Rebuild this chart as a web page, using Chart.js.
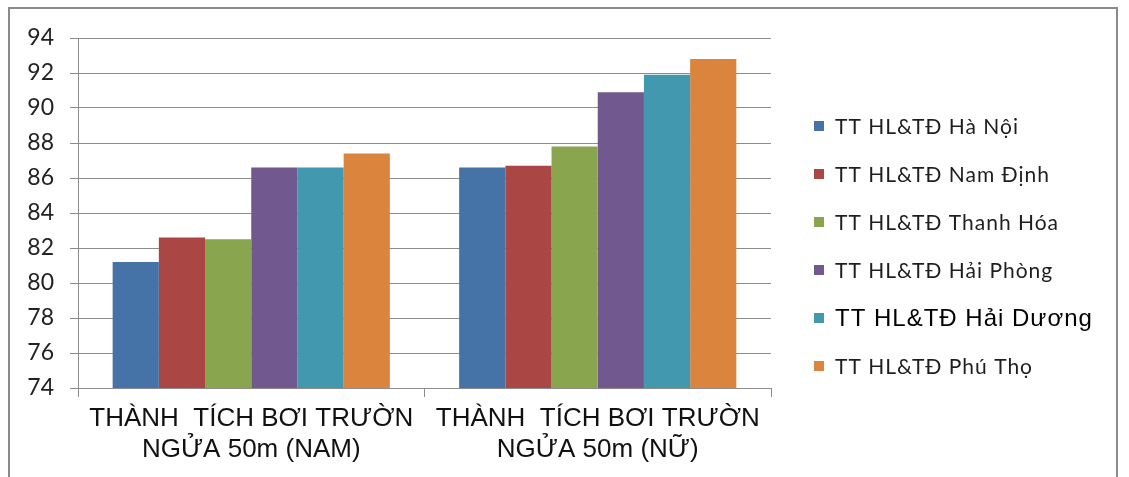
<!DOCTYPE html>
<html>
<head>
<meta charset="utf-8">
<script src="https://cdn.jsdelivr.net/npm/chart.js@4.4.1/dist/chart.umd.min.js"></script>
<style>
  html, body { margin: 0; padding: 0; background: #ffffff; }
  #wrap { width: 1129px; height: 477px; position: relative; }
</style>
</head>
<body>
<div id="wrap"><canvas id="c" width="1129" height="477"></canvas></div>
<script>
// Categories (two-line labels) and one series per training centre
const categories = [
  ['THÀNH  TÍCH BƠI TRƯỜN', 'NGỬA 50m (NAM)'],
  ['THÀNH  TÍCH BƠI TRƯỜN', 'NGỬA 50m (NỮ)']
];
const seriesNames = [
  'TT HL&TĐ Hà Nội',
  'TT HL&TĐ Nam Định',
  'TT HL&TĐ Thanh Hóa',
  'TT HL&TĐ Hải Phòng',
  'TT HL&TĐ Hải Dương',
  'TT HL&TĐ Phú Thọ'
];
const haNoi    = [81.2, 86.6];
const namDinh  = [82.6, 86.7];
const thanhHoa = [82.5, 87.8];
const haiPhong = [86.6, 90.9];
const haiDuong = [86.6, 91.9];
const phuTho   = [87.4, 92.8];
const yTicks = [74, 76, 78, 80, 82, 84, 86, 88, 90, 92, 94];

const seriesValues = [haNoi, namDinh, thanhHoa, haiPhong, haiDuong, phuTho];
const seriesColors = ['#4572A7', '#AA4643', '#89A54E', '#71588F', '#4198AF', '#DB843D'];

// Outer frame around the whole chart
const framePlugin = {
  id: 'frame',
  beforeDraw(chart) {
    const ctx = chart.ctx;
    ctx.save();
    ctx.fillStyle = '#ffffff';
    ctx.fillRect(0, 0, chart.width, chart.height);
    ctx.strokeStyle = '#8a8a8a';
    ctx.lineWidth = 2;
    ctx.strokeRect(9, 8, 1108, 490);
    ctx.restore();
  }
};

// Legend on the right, one row per dataset
const sideLegend = {
  id: 'sideLegend',
  afterDraw(chart) {
    const ctx = chart.ctx;
    ctx.save();
    const x0 = 814, y0 = 126, step = 48;
    chart.data.datasets.forEach((ds, i) => {
      const cy = y0 + i * step;
      ctx.fillStyle = ds.backgroundColor;
      ctx.fillRect(x0, cy - 5, 10, 10);
      ctx.textBaseline = 'middle';
      ctx.textAlign = 'left';
      if (i === 4) {
        ctx.font = '24px "Liberation Sans", Arial, sans-serif';
        ctx.letterSpacing = '1px';
        ctx.fillStyle = '#000000';
      } else {
        ctx.font = '21px Lato, "Open Sans", sans-serif';
        ctx.letterSpacing = '1px';
        ctx.fillStyle = '#1e1e1e';
      }
      ctx.fillText(ds.label, x0 + 21, cy + 1);
    });
    ctx.restore();
  }
};

new Chart(document.getElementById('c'), {
  type: 'bar',
  data: {
    labels: categories,
    datasets: seriesNames.map((name, i) => ({
      label: name,
      data: seriesValues[i],
      backgroundColor: seriesColors[i],
      borderWidth: 0,
      barPercentage: 1.0,
      categoryPercentage: 0.8
    }))
  },
  options: {
    responsive: false,
    animation: false,
    devicePixelRatio: 1,
    layout: { padding: { left: 10, top: 38, right: 358, bottom: 0 } },
    plugins: {
      legend: { display: false },
      tooltip: { enabled: false }
    },
    scales: {
      y: {
        min: 74,
        max: 94,
        afterBuildTicks(scale) { scale.ticks = yTicks.map(v => ({ value: v })); },
        afterFit(scale) { scale.width = 68; },
        grid: { color: '#8c8c8c', lineWidth: 1, tickLength: 8 },
        border: { color: '#8c8c8c', width: 1 },
        ticks: {
          padding: 16,
          color: '#222222',
          font: { family: 'Lato, "Open Sans", sans-serif', size: 23 }
        }
      },
      x: {
        afterFit(scale) { scale.height = 89; },
        grid: { drawOnChartArea: false, color: '#8c8c8c', tickLength: 9, offset: true },
        border: { color: '#8c8c8c', width: 1 },
        ticks: {
          padding: 6,
          color: '#111111',
          maxRotation: 0,
          autoSkip: false,
          font: { family: '"Liberation Sans", Arial, sans-serif', size: 26, lineHeight: 1.2 }
        }
      }
    }
  },
  plugins: [framePlugin, sideLegend]
});
</script>
</body>
</html>
